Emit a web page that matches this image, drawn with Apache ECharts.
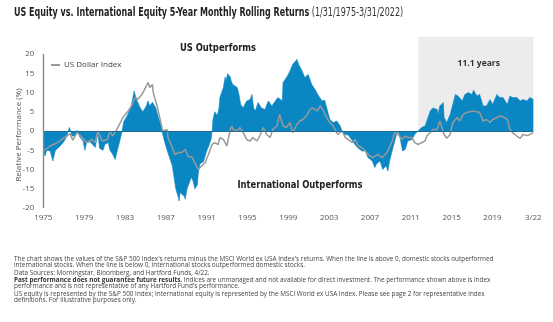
<!DOCTYPE html>
<html><head><meta charset="utf-8">
<script src="https://cdn.jsdelivr.net/npm/echarts@6/dist/echarts.min.js"></script>
<style>html,body{margin:0;padding:0;background:#fff}#c{width:553px;height:322px}</style>
</head><body><div id="c"></div>
<script>
// x positions are months since Jan 1975 (0 = 1/1975, 566 = 3/2022)
const xLabels = ['1975','1979','1983','1987','1991','1995','1999','2003','2007','2011','2015','2019','3/22'];
const yTicks = [-20,-15,-10,-5,0,5,10,15,20];

// US equity minus international equity, 5-yr rolling return difference (%)
const relMonths = [0,2,4,8,11,14,19,23,27,30,31,33,37,39,41,42,46,48,50,54,57,60,63,65,69,71,75,77,80,83,85,89,91,93,97,100,102,105,106,108,112,115,119,121,123,126,128,130,133,135,137,138,141,143,146,149,151,153,156,157,158,160,163,164,166,168,171,173,175,178,179,181,185,187,189,191,194,195,196,198,201,203,204,206,208,210,211,213,216,217,219,221,224,226,228,231,233,235,239,241,243,245,248,252,256,260,264,268,271,276,277,282,285,288,293,295,299,302,306,310,314,317,322,325,328,331,335,339,343,345,348,352,356,360,363,368,372,375,380,383,385,389,392,396,398,400,404,408,410,412,415,418,421,426,429,433,437,441,443,447,450,455,456,458,462,463,466,470,473,476,479,484,487,491,495,497,501,504,508,512,516,519,524,527,531,536,539,542,547,551,554,559,562,566];
const relValues = [-5,-6.5,-5,-5.2,-7.8,-5,-4,-3,-1.5,0.9,0.3,-1.3,-1.3,0.2,0.7,-1.5,-2.6,-5,-3,-2.8,-3.5,-4.3,-0.5,-4.5,-5,-3.5,-3,-5,-6,-7.4,-5.5,-2,0,2.5,4,5.6,7,10.4,9.5,8,6,5,6.5,7.8,6.5,7.5,7,6,3.5,2.2,0.4,-1,-3.5,-5,-7,-9,-12,-15,-17.3,-18.2,-16,-15.6,-17,-17.7,-15,-13.8,-12,-13,-15,-14,-11,-8.5,-8,-8,-5,-4,-2,0,3,5,4,6,8.7,10,11.3,14,13,14.9,14,13,12,11.5,11.3,9.5,6.9,6,7,7.8,8.2,9.5,6,5.2,7.4,6,5.6,7.8,6.5,7.8,8.7,7.8,12.6,14.3,15.6,17.3,18.6,17.3,15.6,13.9,14.7,12.1,10.8,9.5,7.8,8,5.5,3,2.2,2.6,1.3,0,-1,-1,-2.2,-3.5,-4.3,-5.2,-5.2,-6.9,-7.8,-9.5,-8.5,-7.8,-10,-9,-10.4,-7.8,-4.3,-0.9,0,-1.7,-5.2,-4.8,-2.6,-2.2,-0.9,0,0.9,1.3,2.6,5.2,6,5.6,4.3,6.5,7.4,3.5,2.2,4.3,6.9,9.5,9.1,7.8,9.5,10,9.5,10.6,9.1,9.5,6.5,6.5,8.2,6.9,9.5,8.7,8.7,6.9,9.1,8.7,8.7,7.8,8.2,7.8,8.7,8.2];

// US Dollar Index (relative, %)
const usdMonths = [0,8,16,23,27,31,34,39,40,45,50,56,60,63,68,74,77,80,85,89,92,98,102,106,109,114,117,121,123,126,127,131,135,138,143,144,149,152,156,160,164,167,172,175,179,183,187,190,195,198,202,204,208,212,216,218,219,224,227,231,235,239,242,247,250,254,258,262,265,270,273,277,281,285,288,293,296,300,305,308,311,316,320,323,325,329,334,337,340,345,349,352,357,360,364,368,372,375,380,383,387,391,395,398,403,406,410,414,418,421,426,429,433,437,441,443,447,450,455,458,460,463,466,470,473,478,481,485,489,493,496,501,504,508,512,516,519,524,527,531,536,539,542,547,551,554,559,562,566];
const usdValues = [-5.2,-3.9,-3,-1.9,-1.3,-0.7,-2.4,-0.4,0,-1.7,-3,-2.2,-3,0,-2.6,-2.2,0,-1.3,0.4,2.2,3.5,5.2,6.5,8.7,8.2,9.5,10.8,12.6,11.3,12.1,10,6.9,3,0,0.4,-1.7,-4.3,-6.1,-5.6,-5.6,-4.8,-6.5,-6.9,-8.2,-10,-9.1,-8.2,-6.5,-3.5,-3,-3.5,-1.7,-2.2,-3.9,0.4,1.3,0.4,0,0.9,-0.4,-2.2,-2.6,-1.7,-2.6,-1.3,0.9,-0.9,-1.7,0.4,1.3,4.3,1.3,0.9,2.2,-0.4,1.7,2.6,3,4.3,5.6,6,5.2,6.5,5.6,4.5,2.8,1.5,0.4,-0.9,0,-1.7,-2.2,-3,-2.2,-3.9,-4.3,-5.2,-6.1,-6.9,-6.5,-6.1,-6.9,-6.1,-5.2,-2.6,-0.4,-0.9,-2.2,-1.3,-1.7,-1.7,-3,-3.5,-3,-2.6,-1.3,-0.4,0.4,0.4,2.6,2.6,-0.9,-1.9,-0.9,2.2,3.5,2.6,4.3,4.8,5,5.2,5,4.8,2.6,3,2.2,3,3.5,3.9,3.7,3,0.4,-0.4,-1.3,-1.9,-0.9,-1.2,-0.9,-0.4];

const shadeStart = 433, endMonth = 566;

const relData = relMonths.map((m,i)=>[m, relValues[i]]);
const usdData = usdMonths.map((m,i)=>[m, usdValues[i]]);
const step = endMonth/12;
const narrow = "'Liberation Sans Narrow','DejaVu Sans Condensed','Roboto',sans-serif";
const body = "'Open Sans','Noto Sans',sans-serif";
const fn = "6.4px 'Open Sans','Noto Sans',sans-serif";

const chart = echarts.init(document.getElementById('c'));
chart.setOption({
  animation:false,
  backgroundColor:'#fff',
  legend:{left:46,top:56,data:['US Dollar Index'],icon:'rect',itemWidth:9,itemHeight:2,itemGap:4,
    textStyle:{fontFamily:body,fontSize:8,color:'#444',padding:[0,0,0,-1]}},
  grid:{left:43.3,right:19.7,top:34.75,bottom:114},
  xAxis:{type:'value',min:0,max:endMonth,interval:step,
    axisLine:{show:false},axisTick:{show:false},splitLine:{show:false},
    axisLabel:{margin:6,fontFamily:body,fontSize:8,color:'#555',showMinLabel:true,showMaxLabel:true,
      formatter:v=>xLabels[Math.round(v/step)]||''}},
  yAxis:{type:'value',min:-20,max:25,interval:5,
    axisLine:{show:false},axisTick:{show:false},splitLine:{show:false},
    axisLabel:{margin:9,fontFamily:body,fontSize:8,color:'#555',formatter:v=>yTicks.indexOf(v)>=0?String(v):''}},
  series:[
    {name:'US minus International',type:'line',data:relData,symbol:'none',z:2,
     lineStyle:{width:0.6,color:'#0a87c2'},areaStyle:{color:'#0a87c2',opacity:1},
     markArea:{silent:true,itemStyle:{color:'#ececec'},
       label:{show:true,position:'insideTop',distance:22,formatter:'11.1 years',fontFamily:body,fontWeight:'bold',fontSize:8.5,color:'#333',offset:[3,0]},
       data:[[{xAxis:shadeStart,yAxis:0},{xAxis:endMonth,yAxis:24.5}]]},
     markLine:{silent:true,symbol:'none',label:{show:false},
       data:[
         [{coord:[0,0],lineStyle:{color:'#1d6d98',width:1,type:'solid'}},{coord:[endMonth,0]}],
         [{coord:[0,-20],lineStyle:{color:'#8a8a8a',width:1.4,type:'solid'}},{coord:[0,20]}]
       ]}},
    {name:'US Dollar Index',type:'line',data:usdData,symbol:'none',z:3,
     lineStyle:{width:1.5,color:'#999'},itemStyle:{color:'#999'}}
  ],
  graphic:[
    {type:'text',x:14,y:13,scaleX:0.775,style:{text:'{b|US Equity vs. International Equity 5-Year Monthly Rolling Returns} {r|(1/31/1975-3/31/2022)}',
      verticalAlign:'middle',rich:{b:{fontFamily:narrow,fontWeight:'bold',fontSize:11.5,fill:'#222'},r:{fontFamily:narrow,fontSize:11.5,fill:'#333'}}}},
    {type:'text',x:218,y:48,scaleX:0.85,style:{text:'US Outperforms',align:'center',verticalAlign:'middle',font:"bold 11px "+narrow,fill:'#222'}},
    {type:'text',x:300,y:185,scaleX:0.85,style:{text:'International Outperforms',align:'center',verticalAlign:'middle',font:"bold 11px "+narrow,fill:'#222'}},
    {type:'text',x:19,y:135,rotation:Math.PI/2,style:{text:'Relative Performance (%)',align:'center',verticalAlign:'middle',font:"8px "+body,fill:'#555'}},
    {type:'group',left:14,top:256.5,children:[
      {type:'text',x:0,y:0,style:{text:"The chart shows the values of the S&P 500 Index's returns minus the MSCI World ex USA Index's returns. When the line is above 0, domestic stocks outperformed",font:fn,fill:'#444'}},
      {type:'text',x:0,y:6,style:{text:"international stocks. When the line is below 0, international stocks outperformed domestic stocks.",font:fn,fill:'#444'}},
      {type:'text',x:0,y:13.5,style:{text:"Data Sources: Morningstar, Bloomberg, and Hartford Funds, 4/22.",font:fn,fill:'#444'}},
      {type:'text',x:0,y:21,style:{text:"{b|Past performance does not guarantee future results.} Indices are unmanaged and not available for direct investment. The performance shown above is index",font:fn,fill:'#444',rich:{b:{fontWeight:'bold',fontSize:6.4,fontFamily:'Open Sans',fill:'#333'}}}},
      {type:'text',x:0,y:27,style:{text:"performance and is not representative of any Hartford Fund's performance.",font:fn,fill:'#444'}},
      {type:'text',x:0,y:34.5,style:{text:"US equity is represented by the S&P 500 Index; International equity is represented by the MSCI World ex USA Index. Please see page 2 for representative index",font:fn,fill:'#444'}},
      {type:'text',x:0,y:40.5,style:{text:"definitions. For illustrative purposes only.",font:fn,fill:'#444'}}
    ]}
  ]
});
</script></body></html>
